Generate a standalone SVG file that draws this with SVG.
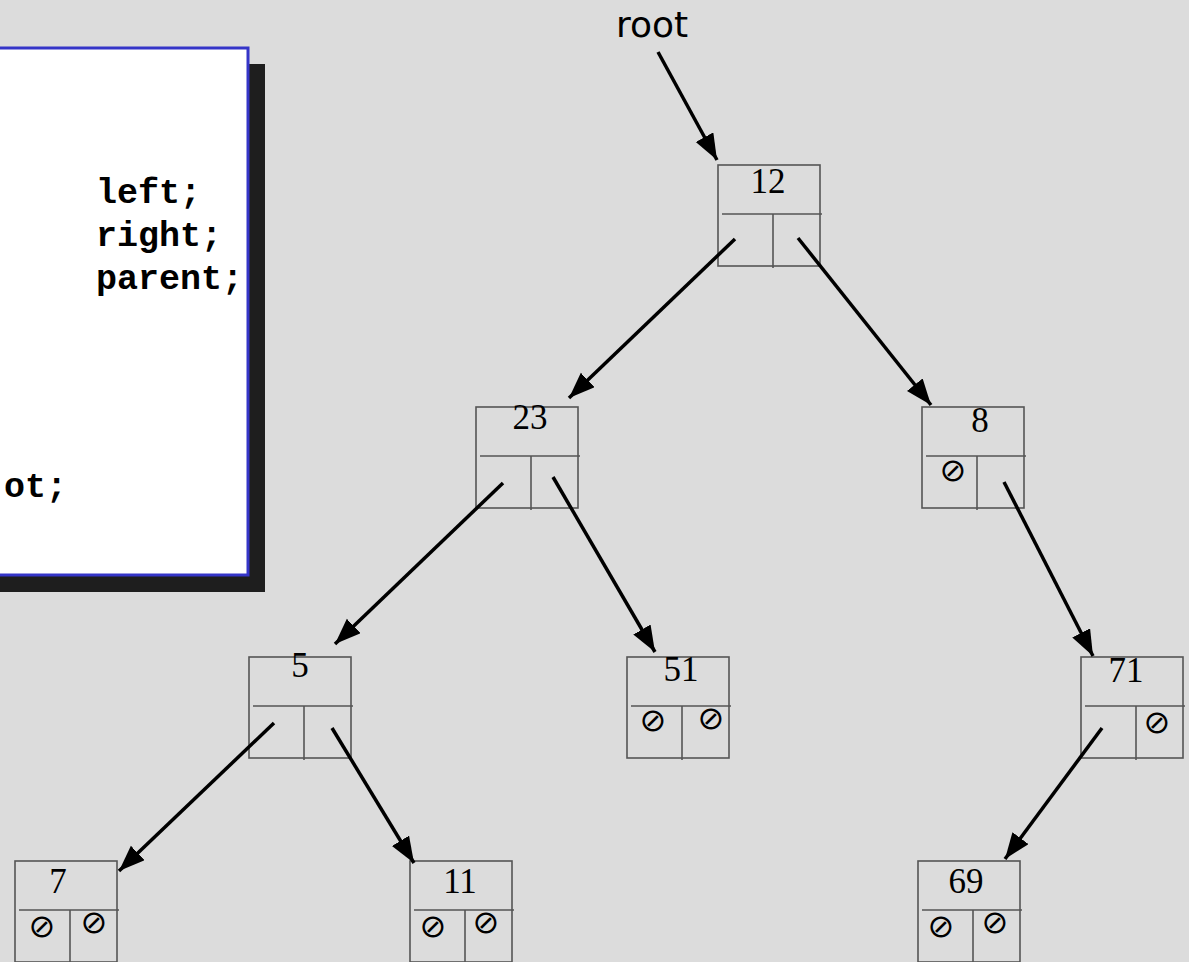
<svg xmlns="http://www.w3.org/2000/svg" width="1189" height="962" viewBox="0 0 1189 962">
  <style>
    .bg { fill: #dcdcdc; }
    .box { fill: none; stroke: #555555; stroke-width: 1.6; }
    .div { stroke: #555555; stroke-width: 1.6; }
    .key { font-family: "Liberation Serif", "Times New Roman", serif; font-size: 35px; fill: #000; text-anchor: middle; }
    .nil { font-family: "DejaVu Sans", sans-serif; font-size: 32px; fill: #000; text-anchor: middle; }
    .code { font-family: "Liberation Mono", "Courier New", monospace; font-size: 35px; font-weight: bold; fill: #000; }
    .label { font-family: "DejaVu Sans", Verdana, sans-serif; font-size: 36px; fill: #000; text-anchor: middle; }
    .ptr { stroke: #000; stroke-width: 3.5; fill: none; marker-end: url(#head); }
  </style>
  <defs>
    <marker id="head" markerUnits="userSpaceOnUse" markerWidth="28" markerHeight="22" refX="26" refY="10" orient="auto">
      <path d="M0,0 L26,10 L0,20 z" fill="#000"/>
    </marker>
    <!-- one tree node: key cell on top, left/right pointer cells below -->
    <g id="cell">
      <rect class="box" x="0" y="0" width="102" height="101"/>
      <line class="div" x1="4" y1="49" x2="104" y2="49"/>
      <line class="div" x1="55" y1="49" x2="55" y2="103"/>
    </g>
  </defs>

  <rect class="bg" x="0" y="0" width="1189" height="962"/>

  <!-- code listing panel with drop shadow -->
  <g id="code">
    <rect x="-20" y="64" width="285" height="528" fill="#1e1e1e"/>
    <rect x="-20" y="48" width="268" height="527" fill="#ffffff" stroke="#3535c8" stroke-width="3"/>
    <text class="code" x="96" y="203">left;</text>
    <text class="code" x="96" y="246">right;</text>
    <text class="code" x="96" y="289">parent;</text>
    <text class="code" x="4" y="497">ot;</text>
  </g>

  <g id="root-label">
    <text class="label" x="652" y="37">root</text>
  </g>

  <g id="n12" transform="translate(718,165)">
    <use href="#cell"/>
    <text class="key" x="50" y="28">12</text>
  </g>
  <g id="n23" transform="translate(476,407)">
    <use href="#cell"/>
    <text class="key" x="54" y="22">23</text>
  </g>
  <g id="n8" transform="translate(922,407)">
    <use href="#cell"/>
    <text class="key" x="58" y="25">8</text>
    <text class="nil" x="31" y="74">⊘</text>
  </g>
  <g id="n5" transform="translate(249,657)">
    <use href="#cell"/>
    <text class="key" x="51" y="20">5</text>
  </g>
  <g id="n51" transform="translate(627,657)">
    <use href="#cell"/>
    <text class="key" x="54" y="24">51</text>
    <text class="nil" x="26" y="74">⊘</text>
    <text class="nil" x="84" y="72">⊘</text>
  </g>
  <g id="n71" transform="translate(1081,657)">
    <use href="#cell"/>
    <text class="key" x="45" y="25">71</text>
    <text class="nil" x="76" y="76">⊘</text>
  </g>
  <g id="n7" transform="translate(15,861)">
    <use href="#cell"/>
    <text class="key" x="43" y="32">7</text>
    <text class="nil" x="27" y="76">⊘</text>
    <text class="nil" x="79" y="72">⊘</text>
  </g>
  <g id="n11" transform="translate(410,861)">
    <use href="#cell"/>
    <text class="key" x="50" y="32">11</text>
    <text class="nil" x="23" y="76">⊘</text>
    <text class="nil" x="76" y="72">⊘</text>
  </g>
  <g id="n69" transform="translate(918,861)">
    <use href="#cell"/>
    <text class="key" x="48" y="32">69</text>
    <text class="nil" x="23" y="76">⊘</text>
    <text class="nil" x="77" y="72">⊘</text>
  </g>

  <!-- pointers -->
  <g id="pointers">
    <line class="ptr" x1="658" y1="52" x2="717" y2="160"/>
    <line class="ptr" x1="735" y1="239" x2="569" y2="398"/>
    <line class="ptr" x1="798" y1="238" x2="931" y2="405"/>
    <line class="ptr" x1="503" y1="483" x2="335" y2="644"/>
    <line class="ptr" x1="553" y1="477" x2="655" y2="652"/>
    <line class="ptr" x1="274" y1="723" x2="119" y2="871"/>
    <line class="ptr" x1="332" y1="728" x2="414" y2="863"/>
    <line class="ptr" x1="1004" y1="482" x2="1093" y2="656"/>
    <line class="ptr" x1="1102" y1="728" x2="1005" y2="859"/>
  </g>
</svg>
